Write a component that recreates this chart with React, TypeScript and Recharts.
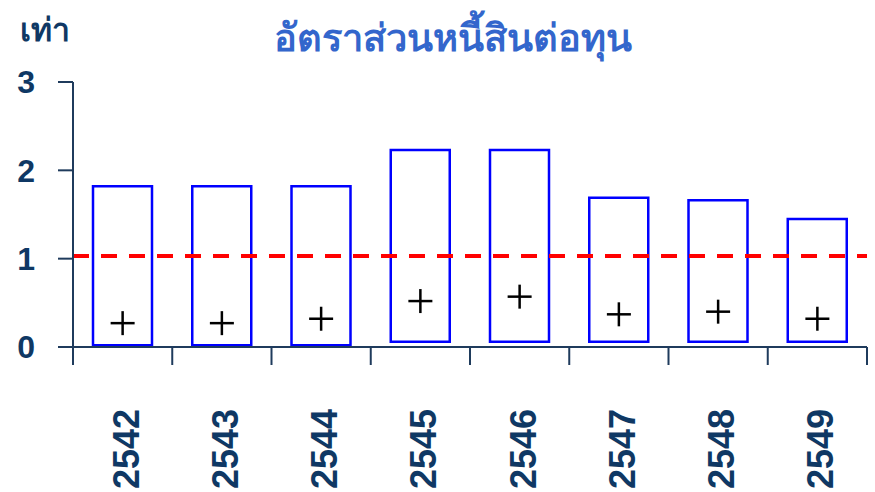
import { ComposedChart, Bar, Scatter, XAxis, YAxis, ReferenceLine } from 'recharts';

const years = ['2542', '2543', '2544', '2545', '2546', '2547', '2548', '2549'];
const lowValues = [0.02, 0.02, 0.02, 0.06, 0.06, 0.06, 0.06, 0.06];
const highValues = [1.82, 1.82, 1.82, 2.23, 2.23, 1.69, 1.66, 1.45];
const meanValues = [0.27, 0.27, 0.32, 0.52, 0.57, 0.37, 0.4, 0.32];
const yTicks = [0, 1, 2, 3];
const benchmark = 1.03;

const data = years.map((year, i) => ({
    year,
    range: [lowValues[i], highValues[i]],
    mean: meanValues[i],
}));

const NAVY = '#0f3864';
const AXIS = '#1f3b5c';
const FONT = '"Liberation Sans", Arial, sans-serif';

const PlusShape = (props: any) => {
    const { cx, cy } = props;
    if (cx == null || cy == null) return null;
    const r = 12;
    return (
        <g stroke="#000" strokeWidth={2.5}>
            <line x1={cx - r} y1={cy} x2={cx + r} y2={cy} />
            <line x1={cx} y1={cy - r} x2={cx} y2={cy + r} />
        </g>
    );
};

const YearTick = (props: any) => {
    const { x, y, payload, index, width, visibleTicksCount } = props;
    const bw = width && visibleTicksCount ? width / visibleTicksCount : 99.25;
    const last = index === (visibleTicksCount || years.length) - 1;
    return (
        <g>
            <line x1={x - bw / 2} y1={y} x2={x - bw / 2} y2={y + 18} stroke={AXIS} strokeWidth={2} />
            {last && <line x1={x + bw / 2} y1={y} x2={x + bw / 2} y2={y + 18} stroke={AXIS} strokeWidth={2} />}
            <text
                transform={`translate(${x + 16},${y + 62}) rotate(-90)`}
                textAnchor="end"
                fill={NAVY}
                fontSize={36}
                fontWeight="bold"
                fontFamily={FONT}
            >
                {payload.value}
            </text>
        </g>
    );
};

const App = () => {
    return (
        <div style={{ position: 'absolute', left: 0, top: 0, width: 875, height: 492, background: '#fff' }}>
            <div
                style={{
                    position: 'absolute',
                    left: 20,
                    top: 8,
                    fontFamily: FONT,
                    fontWeight: 'bold',
                    fontSize: 32,
                    lineHeight: '44px',
                    color: NAVY,
                }}
            >
                เท่า
            </div>
            <div
                style={{
                    position: 'absolute',
                    left: 0,
                    width: 905,
                    top: 12,
                    textAlign: 'center',
                    fontFamily: FONT,
                    fontWeight: 'bold',
                    fontSize: 38,
                    lineHeight: '52px',
                    color: '#3366cc',
                }}
            >
                อัตราส่วนหนี้สินต่อทุน
            </div>
            <ComposedChart
                width={875}
                height={492}
                data={data}
                margin={{ top: 82, right: 8, left: 13, bottom: 0 }}
            >
                <XAxis
                    dataKey="year"
                    height={145}
                    tickLine={false}
                    tickSize={0}
                    tickMargin={0}
                    axisLine={{ stroke: AXIS, strokeWidth: 2 }}
                    tick={<YearTick />}
                    interval={0}
                />
                <YAxis
                    width={60}
                    domain={[0, 3]}
                    ticks={yTicks}
                    tickSize={15}
                    tickMargin={23}
                    axisLine={{ stroke: AXIS, strokeWidth: 2 }}
                    tickLine={{ stroke: AXIS, strokeWidth: 2 }}
                    tick={{ fill: NAVY, fontSize: 32, fontWeight: 'bold', fontFamily: FONT }}
                />
                <Bar
                    dataKey="range"
                    barSize={59}
                    fill="none"
                    stroke="#0000ff"
                    strokeWidth={2.5}
                    isAnimationActive={false}
                />
                <ReferenceLine
                    y={benchmark}
                    stroke="#ff0000"
                    strokeWidth={4}
                    strokeDasharray="16 12"
                />
                <Scatter dataKey="mean" shape={<PlusShape />} isAnimationActive={false} />
            </ComposedChart>
        </div>
    );
};

export default App;
